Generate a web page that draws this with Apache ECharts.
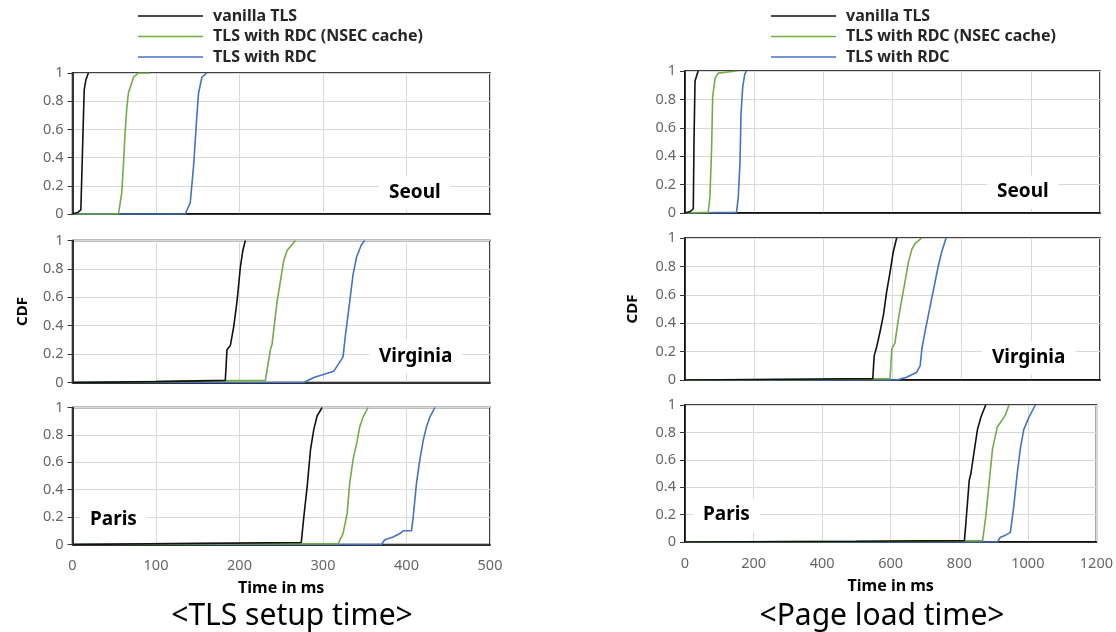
<!DOCTYPE html>
<html><head><meta charset="utf-8">
<script src="https://cdn.jsdelivr.net/npm/echarts@6/dist/echarts.min.js"></script>
<style>html,body{margin:0;padding:0;background:#fff}#c{width:1116px;height:632px}</style>
</head><body><div id="c"></div>
<script>
// ---- data: [time in ms, CDF] ----
const seriesNames = ['vanilla TLS', 'TLS with RDC (NSEC cache)', 'TLS with RDC'];
const cdfTicks = [0, 0.2, 0.4, 0.6, 0.8, 1];
const tlsTicks = [0, 100, 200, 300, 400, 500];
const pageTicks = [0, 200, 400, 600, 800, 1000, 1200];

// TLS setup time
const tlsSeoulVanilla = [[0,0],[6,0.01],[10,0.03],[12,0.04],[14,0.88],[16,0.95],[19,1]];
const tlsSeoulNsec = [[0,0],[55,0],[59,0.15],[61,0.35],[63,0.58],[65,0.75],[67,0.86],[71,0.93],[73,0.97],[79,1],[93,1]];
const tlsSeoulRdc = [[0,0],[135,0],[141,0.08],[145,0.34],[149,0.7],[151,0.86],[155,0.97],[161,1]];
const tlsVirginiaVanilla = [[0,0],[100,0.006],[183,0.015],[185,0.23],[189,0.26],[193,0.39],[197,0.57],[201,0.81],[204,0.93],[207,1]];
const tlsVirginiaNsec = [[0,0],[120,0.008],[231,0.015],[237,0.23],[239,0.27],[245,0.57],[253,0.86],[257,0.93],[267,1]];
const tlsVirginiaRdc = [[0,0],[277,0],[289,0.035],[313,0.08],[324,0.18],[327,0.34],[332,0.57],[336,0.76],[340,0.88],[346,0.97],[350,1]];
const tlsParisVanilla = [[0,0],[150,0.008],[274,0.015],[277,0.2],[281,0.42],[285,0.69],[289,0.84],[293,0.94],[299,1]];
const tlsParisNsec = [[0,0],[200,0.005],[318,0.005],[324,0.08],[329,0.23],[332,0.45],[336,0.62],[341,0.76],[344,0.86],[348,0.93],[354,1]];
const tlsParisRdc = [[0,0],[370,0],[374,0.035],[384,0.055],[392,0.08],[396,0.1],[406,0.1],[408,0.2],[412,0.45],[416,0.62],[420,0.76],[424,0.86],[428,0.93],[434,1]];

// Page load time
const plSeoulVanilla = [[0,0],[15,0.01],[24,0.03],[26,0.5],[29,0.93],[38,1]];
const plSeoulNsec = [[0,0],[67,0.005],[72,0.11],[77,0.46],[80,0.82],[87,0.95],[96,0.985],[130,0.995],[150,1]];
const plSeoulRdc = [[0,0],[149,0.005],[154,0.11],[159,0.35],[162,0.7],[167,0.89],[173,0.98],[178,1]];
const plVirginiaVanilla = [[0,0],[300,0.005],[543,0.01],[547,0.17],[554,0.23],[564,0.34],[574,0.46],[583,0.62],[593,0.76],[602,0.9],[612,1]];
const plVirginiaNsec = [[0,0],[400,0.005],[593,0.01],[598,0.22],[607,0.26],[617,0.43],[627,0.57],[636,0.69],[646,0.83],[656,0.92],[665,0.96],[684,1]];
const plVirginiaRdc = [[0,0],[612,0],[641,0.02],[670,0.055],[680,0.1],[685,0.22],[694,0.34],[704,0.46],[713,0.57],[723,0.69],[733,0.81],[742,0.9],[755,1]];
const plParisVanilla = [[0,0],[500,0.005],[815,0.01],[819,0.13],[829,0.45],[834,0.5],[844,0.67],[853,0.82],[863,0.91],[877,1]];
const plParisNsec = [[0,0],[600,0.005],[868,0.01],[877,0.18],[887,0.43],[897,0.68],[911,0.84],[925,0.89],[935,0.93],[945,1]];
const plParisRdc = [[0,0],[911,0],[920,0.035],[935,0.05],[949,0.07],[959,0.26],[969,0.5],[978,0.68],[988,0.82],[1003,0.91],[1022,1]];

const panels = [
  [tlsSeoulVanilla, tlsSeoulNsec, tlsSeoulRdc],
  [tlsVirginiaVanilla, tlsVirginiaNsec, tlsVirginiaRdc],
  [tlsParisVanilla, tlsParisNsec, tlsParisRdc],
  [plSeoulVanilla, plSeoulNsec, plSeoulRdc],
  [plVirginiaVanilla, plVirginiaNsec, plVirginiaRdc],
  [plParisVanilla, plParisNsec, plParisRdc]
];

// ---- layout / style ----
const FONT = '"Noto Sans", "Open Sans", sans-serif';
const colors = ['#111111', '#70ad47', '#4472c4'];
const grids = [
  {left: 72.5, top: 73, width: 417.5, height: 141},
  {left: 72.5, top: 240.5, width: 417.5, height: 142},
  {left: 72.5, top: 407.5, width: 417.5, height: 137},
  {left: 685, top: 71, width: 415, height: 142},
  {left: 685, top: 238, width: 415, height: 142},
  {left: 685, top: 405, width: 415, height: 137}
];

const chart = echarts.init(document.getElementById('c'));
const xAxis = [], yAxis = [], series = [];
grids.forEach((g, i) => {
  const right = i >= 3;
  const ticks = right ? pageTicks : tlsTicks;
  const bottom = (i % 3) === 2;
  xAxis.push({
    type: 'value', gridIndex: i, min: ticks[0], max: ticks[ticks.length - 1],
    interval: ticks[1] - ticks[0],
    axisLine: {show: true, lineStyle: {color: '#000', width: 1.5}},
    axisTick: {show: false},
    axisLabel: {show: bottom, color: '#666666', fontSize: 14.5, fontFamily: FONT, margin: 14,
      formatter: v => String(v)},
    splitLine: {show: true, lineStyle: {color: '#d9d9d9', width: 1}},
    name: bottom ? 'Time in ms' : '', nameLocation: 'middle', nameGap: 36,
    nameTextStyle: {color: '#000', fontSize: 16, fontWeight: 'bold', fontFamily: FONT}
  });
  yAxis.push({
    type: 'value', gridIndex: i, min: cdfTicks[0], max: cdfTicks[cdfTicks.length - 1],
    interval: cdfTicks[1] - cdfTicks[0],
    axisLine: {show: true, lineStyle: {color: '#000', width: 1.5}},
    axisTick: {show: true, length: 5, lineStyle: {color: '#333'}},
    axisLabel: {color: '#666666', fontSize: 14.5, fontFamily: FONT, margin: 9,
      formatter: v => String(Math.round(v * 10) / 10)},
    splitLine: {show: true, lineStyle: {color: '#d9d9d9', width: 1}},
    name: (i % 3) === 1 ? 'CDF' : '', nameLocation: 'middle', nameGap: right ? 45 : 42,
    nameTextStyle: {color: '#000', fontSize: 15, fontWeight: 'bold', fontFamily: FONT}
  });
  panels[i].forEach((d, k) => {
    series.push({
      type: 'line', name: seriesNames[k], xAxisIndex: i, yAxisIndex: i,
      data: d, symbol: 'none', showSymbol: false, animation: false,
      lineStyle: {color: colors[k], width: 1.6}, itemStyle: {color: colors[k]}, z: 3 - k + 2
    });
  });
});

function legendAt(left) {
  return {
    left: left, top: 3, orient: 'vertical', icon: 'rect', itemWidth: 65, itemHeight: 1.6, itemGap: 4.5,
    data: seriesNames, selectedMode: false,
    textStyle: {color: '#262626', fontSize: 16, fontWeight: 'bold', fontFamily: FONT, lineHeight: 16, padding: [0, 0, 0, 5]}
  };
}

function place(text, x, y) {
  return {
    type: 'text', x: x, y: y, z: 50,
    style: {
      text: text, fill: '#000', font: 'bold 19px ' + FONT,
      textVerticalAlign: 'middle', backgroundColor: '#fff', padding: [7, 10, 7, 10]
    }
  };
}
function caption(text, cx, cy) {
  return {
    type: 'text', x: cx, y: cy, z: 50,
    style: {text: text, fill: '#000', font: '30px ' + FONT, textAlign: 'center', textVerticalAlign: 'middle'}
  };
}

chart.setOption({
  backgroundColor: '#fff',
  animation: false,
  legend: [legendAt(133), legendAt(766)],
  grid: grids.map(g => Object.assign({show: true, borderColor: '#000', borderWidth: 1.5, backgroundColor: 'transparent', containLabel: false}, g)),
  xAxis: xAxis,
  yAxis: yAxis,
  series: series,
  graphic: [
    place('Seoul', 379, 193),
    place('Virginia', 369, 357),
    place('Paris', 80, 520),
    place('Seoul', 987, 192),
    place('Virginia', 982, 358),
    place('Paris', 693, 515),
    caption('<TLS setup time>', 292, 616),
    caption('<Page load time>', 882, 616)
  ]
});
</script></body></html>
